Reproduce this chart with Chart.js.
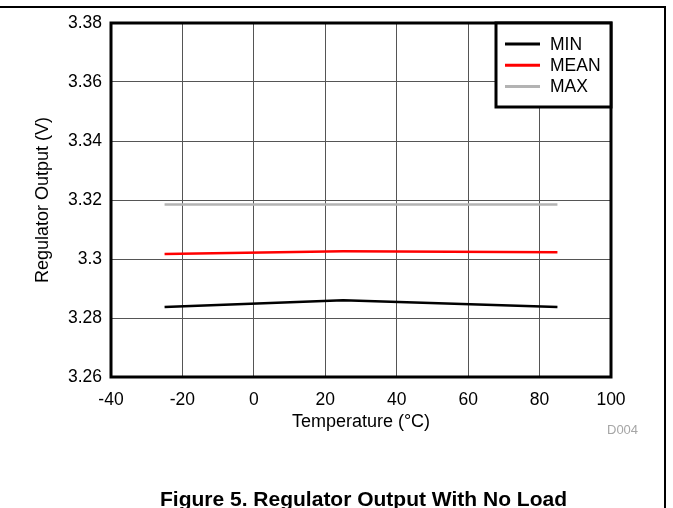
<!DOCTYPE html>
<html>
<head>
<meta charset="utf-8">
<script src="https://cdn.jsdelivr.net/npm/chart.js@4.4.1/dist/chart.umd.min.js"></script>
<style>
  html, body { margin: 0; padding: 0; background: #fff; }
  #wrap { position: relative; width: 673px; height: 508px; overflow: hidden; font-family: "Liberation Sans", Arial, sans-serif; }
  #frame { position: absolute; left: -4px; top: 6px; width: 668px; height: 520px; border-top: 2px solid #000; border-right: 2px solid #000; }
  #code { position: absolute; left: 607px; top: 422px; font-size: 13px; line-height: 15px; color: #a6a6a6; }
  #caption { position: absolute; left: 0; width: 727px; top: 487px; text-align: center; white-space: nowrap; font-size: 21px; line-height: 24px; font-weight: bold; color: #000; }
  canvas { position: absolute; left: 0; top: 0; }
</style>
</head>
<body>
<div id="wrap">
  <div id="frame"></div>
  <canvas id="chart" width="673" height="508"></canvas>
  <div id="code">D004</div>
  <div id="caption">Figure 5. Regulator Output With No Load</div>
</div>
<script>
// values
var temps = [-25, 25, 85];
var minVals = [3.2837, 3.2860, 3.2837];
var meanVals = [3.3017, 3.3026, 3.3023];
var maxVals = [3.3185, 3.3185, 3.3185];

var seriesNames = ["MIN", "MEAN", "MAX"];
var seriesColours = ["#000000", "#ff0000", "#b3b3b3"];

var xTitle = "Temperature (\u00b0C)";
var yTitle = "Regulator Output (V)";

var toPoints = function(vals) {
	return temps.map(function(t, i) { return { x: t, y: vals[i] }; });
};

// frame round the plot plus the boxed legend in the top right corner
var framePlugin = {
	id: 'frameAndLegend',
	afterDatasetsDraw: function(chart) {
		var ctx = chart.ctx;
		var a = chart.chartArea;
		ctx.save();
		ctx.strokeStyle = '#000';
		ctx.lineWidth = 3;
		ctx.strokeRect(a.left, a.top, a.right - a.left, a.bottom - a.top);

		var boxL = a.right - 115, boxT = a.top, boxB = a.top + 84;
		ctx.fillStyle = '#fff';
		ctx.fillRect(boxL, boxT, a.right - boxL, boxB - boxT);
		ctx.strokeRect(boxL, boxT, a.right - boxL, boxB - boxT);

		ctx.font = '17.5px "Liberation Sans", Arial, sans-serif';
		ctx.textBaseline = 'middle';
		ctx.textAlign = 'left';
		chart.data.datasets.forEach(function(ds, i) {
			var y = a.top + 21 + i * 21.2;
			ctx.strokeStyle = ds.borderColor;
			ctx.lineWidth = 3;
			ctx.beginPath();
			ctx.moveTo(boxL + 9, y);
			ctx.lineTo(boxL + 44, y);
			ctx.stroke();
			ctx.fillStyle = '#000';
			ctx.fillText(ds.label, boxL + 54, y + 1);
		});
		ctx.restore();
	}
};

var datasets = [minVals, meanVals, maxVals].map(function(vals, i) {
	return {
		label: seriesNames[i],
		data: toPoints(vals),
		borderColor: seriesColours[i],
		backgroundColor: seriesColours[i],
		borderWidth: 2.5,
		pointRadius: 0,
		tension: 0,
		fill: false
	};
});

var config = {
	type: 'line',
	data: { datasets: datasets },
	options: {
		responsive: false,
		animation: false,
		devicePixelRatio: 1,
		layout: { padding: { left: 0, top: 23, right: 62, bottom: 61 } },
		plugins: {
			legend: { display: false },
			tooltip: { enabled: false }
		},
		scales: {
			x: {
				type: 'linear',
				min: -40,
				max: 100,
				afterFit: function(scale) { scale.height = 70; },
				ticks: {
					stepSize: 20,
					padding: 13,
					color: '#000',
					font: { family: '"Liberation Sans", Arial, sans-serif', size: 17.5 }
				},
				grid: { color: '#555', lineWidth: 1, drawTicks: false },
				border: { display: false },
				title: {
					display: true,
					text: xTitle,
					color: '#000',
					padding: { top: 0, bottom: 14 },
					font: { family: '"Liberation Sans", Arial, sans-serif', size: 18 }
				}
			},
			y: {
				type: 'linear',
				min: 3.26,
				max: 3.38,
				afterFit: function(scale) { scale.width = 111; },
				ticks: {
					stepSize: 0.02,
					padding: 9,
					color: '#000',
					font: { family: '"Liberation Sans", Arial, sans-serif', size: 17.5 },
					callback: function(v) { return String(Number(v.toFixed(2))); }
				},
				grid: { color: '#555', lineWidth: 1, drawTicks: false },
				border: { display: false },
				title: {
					display: true,
					text: yTitle,
					color: '#000',
					padding: { top: 32, bottom: 0 },
					font: { family: '"Liberation Sans", Arial, sans-serif', size: 18 }
				}
			}
		}
	},
	plugins: [framePlugin]
};

var ctx = document.getElementById("chart").getContext("2d");
window.regChart = new Chart(ctx, config);
</script>
</body>
</html>
